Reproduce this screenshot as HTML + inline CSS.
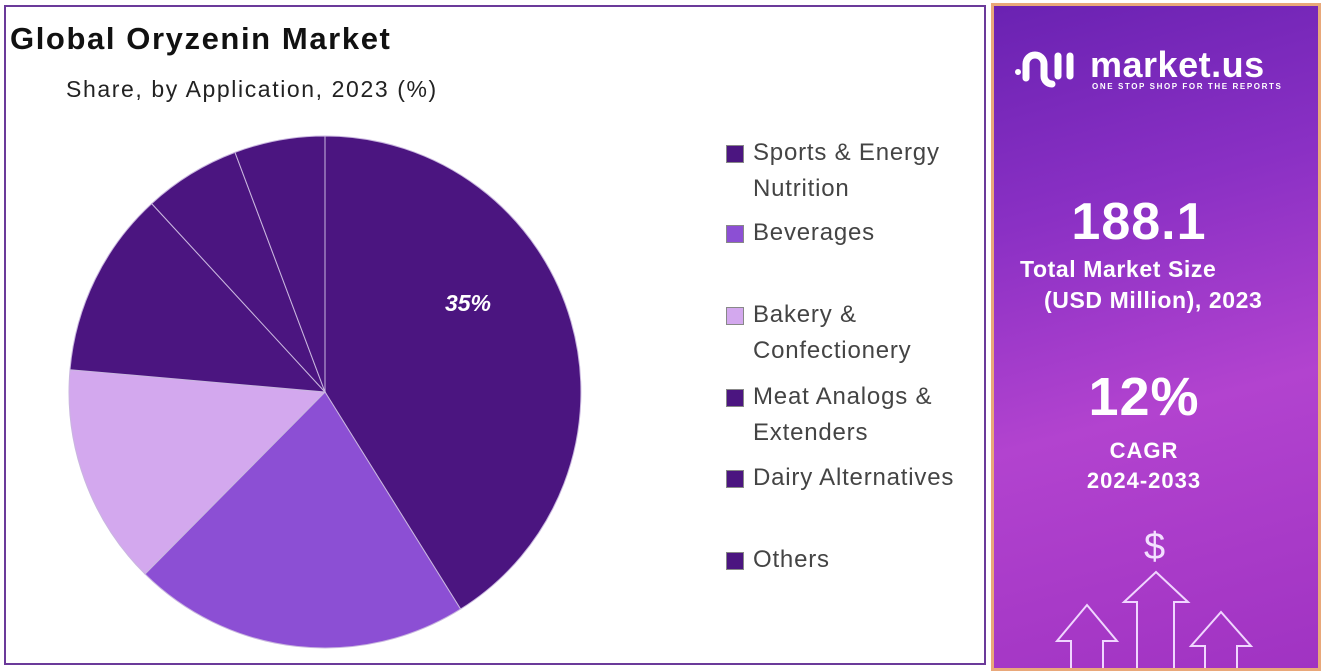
<!DOCTYPE html>
<html><head><meta charset="utf-8"><style>
body{margin:0;width:1321px;height:671px;background:#fff;position:relative;overflow:hidden;font-family:"Liberation Sans",sans-serif}
.lp{position:absolute;left:4px;top:5px;width:982px;height:660px;border:2px solid #6b3a9a;box-sizing:border-box}
.rp{position:absolute;left:991px;top:3px;width:330px;height:668px;border:3px solid #e9a87a;box-sizing:border-box;background:linear-gradient(165deg,#6a22b2 0%,#8a30c4 30%,#b243cf 60%,#a033c2 100%);color:#fff;text-align:center;overflow:hidden}
.t{position:absolute;font-weight:bold;white-space:nowrap}
.leg{position:absolute;left:726px;font-size:24px;color:#444;line-height:36px;letter-spacing:0.8px}
.leg i{position:absolute;left:0;width:16px;height:16px;border:1px solid #888}
.leg span{position:absolute;left:27px;white-space:nowrap}
</style></head><body>
<div class="lp"></div>
<div class="t" style="left:10px;top:21px;font-size:31px;color:#111;letter-spacing:1.6px">Global Oryzenin Market</div>
<div style="position:absolute;left:66px;top:76px;font-size:23px;color:#222;letter-spacing:1.6px">Share, by Application, 2023 (%)</div>
<svg style="position:absolute;left:0;top:0" width="990" height="671">
<g stroke="#c9b6df" stroke-width="1">
<path d="M325,392 L325,136 A256,256 0 0 1 460.6,609.1Z" fill="#4b1580"/>
<path d="M325,392 L460.6,609.1 A256,256 0 0 1 145,574Z" fill="#8c4fd4"/>
<path d="M325,392 L145,574 A256,256 0 0 1 70,369.7Z" fill="#d3a8ee"/>
<path d="M325,392 L70,369.7 A256,256 0 0 1 151.7,203.6Z" fill="#4b1580"/>
<path d="M325,392 L151.7,203.6 A256,256 0 0 1 235,152.4Z" fill="#4b1580"/>
<path d="M325,392 L235,152.4 A256,256 0 0 1 325,136Z" fill="#4b1580"/>
</g>
<text x="468" y="311" fill="#fff" font-size="23" font-weight="bold" font-style="italic" text-anchor="middle" font-family="Liberation Sans">35%</text>
</svg>
<div class="leg" style="top:135px"><i style="top:10px;background:#4b1580"></i><span>Sports &amp; Energy<br>Nutrition</span></div>
<div class="leg" style="top:215px"><i style="top:10px;background:#8c4fd4"></i><span>Beverages</span></div>
<div class="leg" style="top:297px"><i style="top:10px;background:#d3a8ee"></i><span>Bakery &amp;<br>Confectionery</span></div>
<div class="leg" style="top:379px"><i style="top:10px;background:#4b1580"></i><span>Meat Analogs &amp;<br>Extenders</span></div>
<div class="leg" style="top:460px"><i style="top:10px;background:#4b1580"></i><span>Dairy Alternatives</span></div>
<div class="leg" style="top:542px"><i style="top:10px;background:#4b1580"></i><span>Others</span></div>
<div class="rp">
<svg style="position:absolute;left:18px;top:40px" width="70" height="50" fill="none" stroke="#fff" stroke-width="7" stroke-linecap="round">
<circle cx="6" cy="26" r="3" fill="#fff" stroke="none"/>
<path d="M14,32 V18 A9,9 0 0 1 32,18 V30 A8,8 0 0 0 40,38"/>
<path d="M46,10 V30"/><path d="M58,10 V30"/>
</svg>
<div class="t" style="left:96px;top:38px;font-size:36px;letter-spacing:0.5px">market.us</div>
<div class="t" style="left:98px;top:76px;font-size:8px;letter-spacing:1.6px">ONE STOP SHOP FOR THE REPORTS</div>
<div class="t" style="left:0;width:290px;top:186px;font-size:52px;letter-spacing:1px">188.1</div>
<div class="t" style="left:26px;top:250px;font-size:23px;letter-spacing:0.6px">Total Market Size</div>
<div class="t" style="left:50px;top:281px;font-size:23px;letter-spacing:0.6px">(USD Million), 2023</div>
<div class="t" style="left:0;width:300px;top:360px;font-size:54px;letter-spacing:1px">12%</div>
<div class="t" style="left:0;width:300px;top:432px;font-size:22px;letter-spacing:1px">CAGR</div>
<div class="t" style="left:0;width:300px;top:462px;font-size:22px;letter-spacing:1px">2024-2033</div>
<div style="position:absolute;left:150px;top:520px;font-size:38px;color:#f3e0ff">$</div>
<svg style="position:absolute;left:0;top:0" width="330" height="668" fill="none" stroke="#f0d6ff" stroke-width="2">
<path d="M77,668 V635 H63 L93,599 L123,635 H109 V668"/>
<path d="M143,668 V596 H130 L162,566 L194,596 H180 V668"/>
<path d="M211,668 V640 H197 L227,606 L257,640 H243 V668"/>
</svg>
</div>
</body></html>
